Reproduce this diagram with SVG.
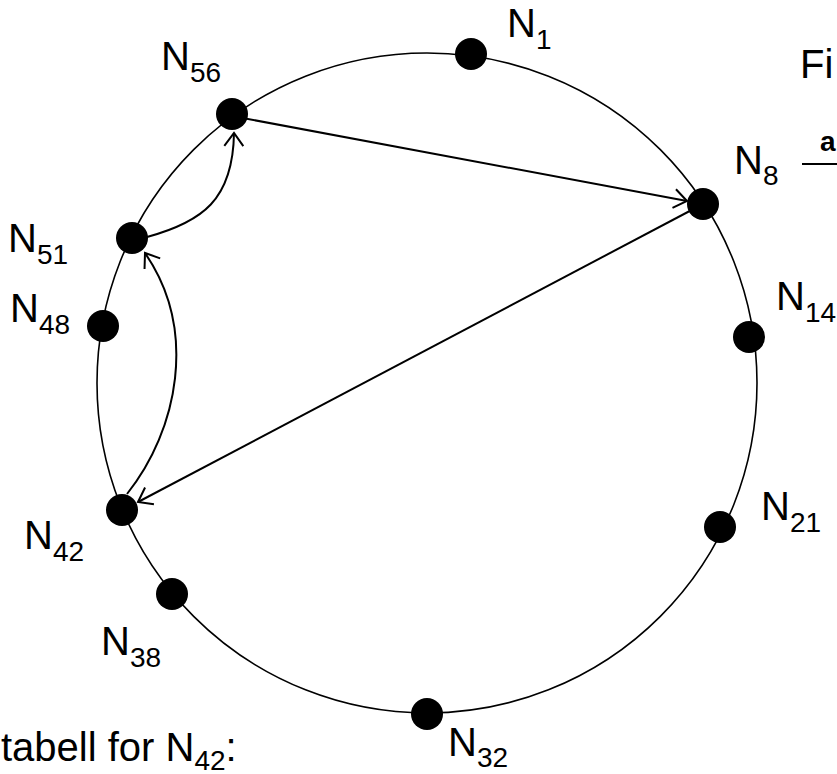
<svg xmlns="http://www.w3.org/2000/svg" width="837" height="774" viewBox="0 0 837 774">
<style>
text{font-family:"Liberation Sans",Arial,sans-serif;font-size:40px;fill:#000}
.sub{font-size:28px}
.ring{fill:none;stroke:#000;stroke-width:1.6}
.dot{fill:#000}
.conn{fill:none;stroke:#000;stroke-width:2;marker-end:url(#arr)}
</style>
<defs>
<marker id="arr" markerUnits="userSpaceOnUse" viewBox="-16 -12 18 24" refX="0" refY="0" markerWidth="18" markerHeight="24" orient="auto">
<path d="M-13,-9.5 L0,0 L-13,9.5" fill="none" stroke="#000" stroke-width="2"/>
</marker>
</defs>
<rect width="837" height="774" fill="#fff"/>
<circle class="ring" cx="427" cy="383" r="330"/>
<g id="connectors">
<line class="conn" x1="232" y1="116" x2="687" y2="201"/>
<line class="conn" x1="703" y1="204" x2="138" y2="502"/>
<path class="conn" d="M127,494 C178,430 198,330 145,253"/>
<path class="conn" d="M147,237 C202,222 233,200 234,133"/>
</g>
<g id="N1"><circle class="dot" cx="471" cy="54" r="16"/><text x="507" y="37">N<tspan class="sub" dy="12">1</tspan></text></g>
<g id="N8"><circle class="dot" cx="703" cy="204" r="16"/><text x="734" y="174">N<tspan class="sub" dy="11">8</tspan></text></g>
<g id="N14"><circle class="dot" cx="749" cy="337" r="16"/><text x="776" y="310">N<tspan class="sub" dy="12">14</tspan></text></g>
<g id="N21"><circle class="dot" cx="720" cy="527" r="16"/><text x="761" y="520">N<tspan class="sub" dy="12">21</tspan></text></g>
<g id="N32"><circle class="dot" cx="427" cy="714" r="16"/><text x="448" y="756">N<tspan class="sub" dy="11">32</tspan></text></g>
<g id="N38"><circle class="dot" cx="172" cy="594" r="16"/><text x="101" y="655">N<tspan class="sub" dy="12">38</tspan></text></g>
<g id="N42"><circle class="dot" cx="122" cy="510" r="16"/><text x="24" y="549">N<tspan class="sub" dy="12">42</tspan></text></g>
<g id="N48"><circle class="dot" cx="103" cy="326" r="16"/><text x="10" y="322">N<tspan class="sub" dy="12">48</tspan></text></g>
<g id="N51"><circle class="dot" cx="132" cy="238" r="16"/><text x="8" y="252">N<tspan class="sub" dy="12">51</tspan></text></g>
<g id="N56"><circle class="dot" cx="232" cy="114" r="16"/><text x="161" y="70">N<tspan class="sub" dy="12">56</tspan></text></g>
<g id="caption">
<text x="800" y="78">Fi</text>
<text x="820" y="151" style="font-size:28px;font-weight:bold">a</text>
<line x1="802" y1="164" x2="837" y2="164" stroke="#000" stroke-width="2"/>
<text x="1" y="761">tabell for N<tspan class="sub" dy="9">42</tspan><tspan dy="-9">:</tspan></text>
</g>
</svg>
